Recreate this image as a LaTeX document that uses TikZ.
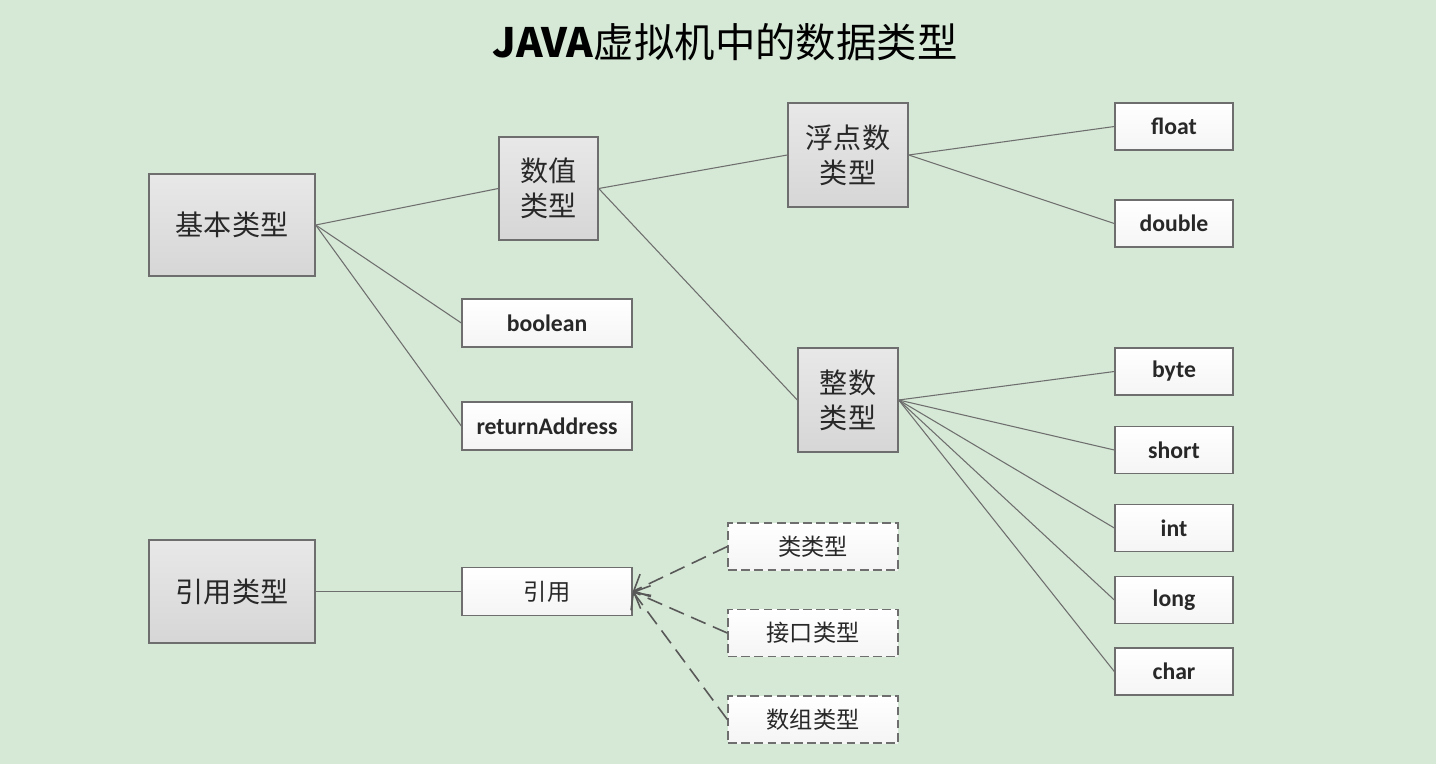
\documentclass[tikz,border=0pt]{standalone}
\usepackage{fontspec}
\setmainfont{Carlito}
\newfontfamily\cjk{Noto Sans CJK SC}
\usepackage{tikz}
\usetikzlibrary{arrows.meta, positioning}

\definecolor{bgcol}{RGB}{214,232,214}
\definecolor{edgecol}{RGB}{110,110,110}
\definecolor{txtcol}{RGB}{40,40,40}

\begin{document}
\begin{tikzpicture}[
  x=0.02cm, y=-0.02cm,
  graybox/.style={rectangle, draw=edgecol, line width=0.8pt, top color=gray!18,
                  bottom color=gray!32, align=center, text=txtcol,
                  font=\cjk\fontsize{16}{20}\selectfont, inner sep=0pt},
  leaf/.style={rectangle, draw=edgecol, line width=0.8pt, top color=white,
               bottom color=gray!8, align=center, text=txtcol,
               font=\bfseries\fontsize{13.5}{16}\selectfont, inner sep=0pt,
               minimum width=2.36cm, minimum height=0.94cm},
  midleaf/.style={leaf, minimum width=3.4cm, minimum height=0.96cm},
  refbox/.style={leaf, dashed, dash pattern=on 5pt off 2.5pt,
                 minimum width=3.4cm, minimum height=0.94cm,
                 font=\cjk\fontsize{13.2}{16}\selectfont},
  link/.style={draw=edgecol, line width=0.6pt},
  reflink/.style={draw=edgecol!80!black, line width=0.9pt, dash pattern=on 9pt off 4.5pt,
                  -{Straight Barb[length=2.6mm, width=5mm]}}
]
  % background and frame
  \path[fill=bgcol] (0,0) rectangle (1436,764);
  \useasboundingbox (0,0) rectangle (1436,764);

  \node[font=\cjk\fontsize{23}{27}\selectfont, text=black] (title) at (725,42) {\textbf{JAVA}虚拟机中的数据类型};

  % left column
  \node[graybox, minimum width=3.32cm, minimum height=2.04cm] (basic) at (232,225) {基本类型};
  \node[graybox, minimum width=3.32cm, minimum height=2.06cm] (reftype) at (232,591.5) {引用类型};

  % second column
  \node[graybox, minimum width=1.98cm, minimum height=2.06cm] (numeric) at (548.5,188.5) {数值\\类型};
  \node[midleaf] (boolean) at (547,323) {boolean};
  \node[midleaf] (retaddr) at (547,426) {returnAddress};
  \node[midleaf, font=\cjk\fontsize{13.2}{16}\selectfont] (ref) at (547,591.5) {引用};

  % third column
  \node[graybox, minimum width=2.4cm, minimum height=2.08cm] (floating) at (848,155) {浮点数\\类型};
  \node[graybox, minimum width=2.0cm, minimum height=2.08cm] (integral) at (848,400) {整数\\类型};
  \node[refbox] (classt) at (813,546.5) {类类型};
  \node[refbox] (ifacet) at (813,633) {接口类型};
  \node[refbox] (arrayt) at (813,719.5) {数组类型};

  % right column
  \node[leaf] (float)  at (1174,126.5) {float};
  \node[leaf] (double) at (1174,223.5) {double};
  \node[leaf] (byte)   at (1174,371.5) {byte};
  \node[leaf] (short)  at (1174,450)   {short};
  \node[leaf] (int)    at (1174,528)   {int};
  \node[leaf] (long)   at (1174,600)   {long};
  \node[leaf] (char)   at (1174,671.5) {char};

  % connectors
  \draw[link] (basic.east) -- (numeric.west);
  \draw[link] (basic.east) -- (boolean.west);
  \draw[link] (basic.east) -- (retaddr.west);
  \draw[link] (numeric.east) -- (floating.west);
  \draw[link] (numeric.east) -- (integral.west);
  \foreach \t in {float, double}
    \draw[link] (floating.east) -- (\t.west);
  \foreach \t in {byte, short, int, long, char}
    \draw[link] (integral.east) -- (\t.west);
  \draw[link] (reftype.east) -- (ref.west);
  \foreach \t in {classt, ifacet, arrayt}
    \draw[reflink] (\t.west) -- (ref.east);
\end{tikzpicture}
\end{document}
